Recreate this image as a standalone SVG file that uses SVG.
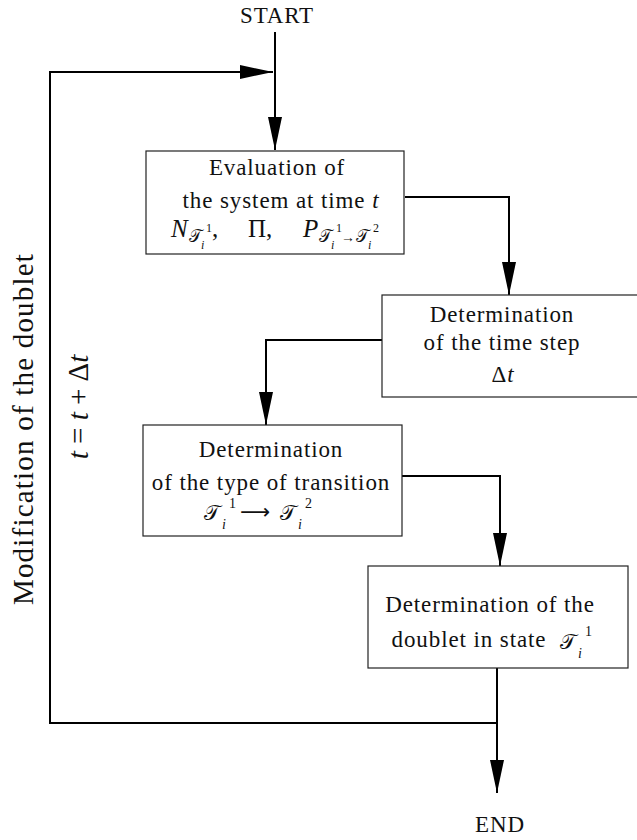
<svg xmlns="http://www.w3.org/2000/svg" width="637" height="840" viewBox="0 0 637 840">
<style>
text{font-family:"Liberation Serif","Times New Roman",serif;fill:#111;}
.t{font-family:"Liberation Serif","Times New Roman",serif;font-size:23px;letter-spacing:0.9px;text-anchor:middle;}
.mt{font-family:"Liberation Serif","Times New Roman",serif;font-size:25px;}
.it{font-style:italic;}
.cal{font-family:"DejaVu Sans","Noto Sans",serif;font-size:17px;}
.calL{font-family:"DejaVu Sans","Noto Sans",serif;font-size:21px;}
.s{font-size:12px;}
.s2{font-size:14px;}
.box{fill:#fff;stroke:#222;stroke-width:1.2;}
.con{fill:none;stroke:#000;stroke-width:2;}
.lab{font-family:"Liberation Serif","Times New Roman",serif;font-size:29px;letter-spacing:1.2px;text-anchor:middle;}
</style>
<defs>
<marker id="ah" markerUnits="userSpaceOnUse" markerWidth="34" markerHeight="16" refX="33" refY="7" orient="auto">
<path d="M0,0 L33,7 L0,14 z" fill="#000"/>
</marker>
</defs>

<g id="connectors">
<path class="con" d="M275,32 V150" marker-end="url(#ah)"/>
<path class="con" d="M497,723 H50 V72 H273" marker-end="url(#ah)"/>
<path class="con" d="M405,197 H509 V295" marker-end="url(#ah)"/>
<path class="con" d="M382,340 H266 V425" marker-end="url(#ah)"/>
<path class="con" d="M402,476 H500 V566" marker-end="url(#ah)"/>
<path class="con" d="M497,668 V793" marker-end="url(#ah)"/>
</g>

<g id="start"><text class="t" x="277" y="23">START</text></g>
<g id="end"><text class="t" x="500" y="832">END</text></g>

<g id="evaluation">
<rect class="box" x="146" y="151" width="258" height="103"/>
<text class="t" x="277" y="175">Evaluation of</text>
<text class="t" x="281" y="208">the system at time <tspan class="it">t</tspan></text>
<text class="mt"><tspan class="it" x="171" y="237">N</tspan><tspan class="cal" x="189" y="242">𝒯</tspan><tspan class="s" x="206" y="232">1</tspan><tspan class="s it" x="201" y="249">i</tspan><tspan x="212" y="237">,</tspan><tspan x="248" y="237">Π,</tspan><tspan class="it" x="303" y="237">P</tspan><tspan class="cal" x="319" y="242">𝒯</tspan><tspan class="s" x="336" y="232">1</tspan><tspan class="s it" x="331" y="249">i</tspan><tspan class="s2" x="341" y="242">→</tspan><tspan class="cal" x="356" y="242">𝒯</tspan><tspan class="s" x="373" y="232">2</tspan><tspan class="s it" x="368" y="249">i</tspan></text>
</g>

<g id="timestep">
<rect class="box" x="382" y="295" width="260" height="102"/>
<text class="t" x="502" y="322">Determination</text>
<text class="t" x="502" y="350">of the time step</text>
<text class="t" x="503" y="382">Δ<tspan class="it">t</tspan></text>
</g>

<g id="transition">
<rect class="box" x="143" y="425" width="259" height="111"/>
<text class="t" x="271" y="457">Determination</text>
<text class="t" x="271" y="490">of the type of transition</text>
<text class="mt"><tspan class="calL" x="204" y="520">𝒯</tspan><tspan class="s2" x="229" y="508">1</tspan><tspan class="s2 it" x="222" y="529">i</tspan><tspan class="calL" x="240" y="519">⟶</tspan><tspan class="calL" x="280" y="520">𝒯</tspan><tspan class="s2" x="305" y="508">2</tspan><tspan class="s2 it" x="298" y="529">i</tspan></text>
</g>

<g id="doublet">
<rect class="box" x="368" y="566" width="260" height="102"/>
<text class="t" x="490" y="612">Determination of the</text>
<text class="t" x="469" y="647">doublet in state</text>
<text class="mt"><tspan class="calL" x="560" y="649">𝒯</tspan><tspan class="s2" x="585" y="636">1</tspan><tspan class="s2 it" x="578" y="658">i</tspan></text>
</g>

<g id="labels">
<text class="lab" transform="translate(33,429) rotate(-90)">Modification of the doublet</text>
<text class="lab" transform="translate(88,407) rotate(-90)" style="letter-spacing:0"><tspan class="it">t</tspan> = <tspan class="it">t</tspan> + Δ<tspan class="it">t</tspan></text>
</g>
</svg>
